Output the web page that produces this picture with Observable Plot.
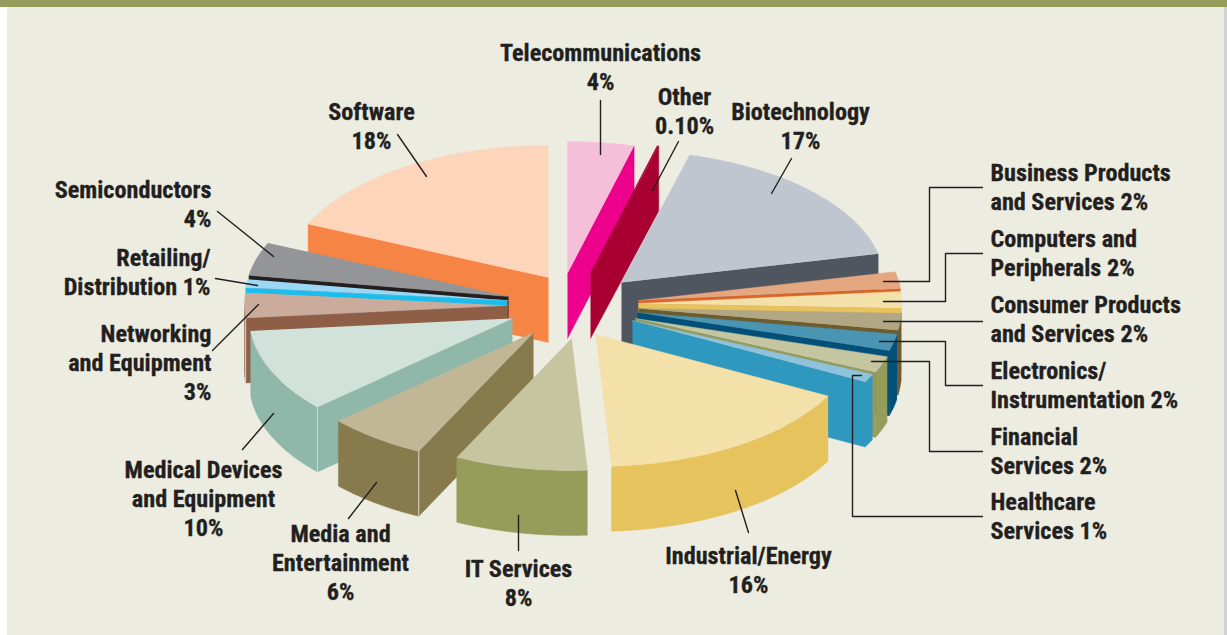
<!DOCTYPE html>
<html>
<head>
<meta charset="utf-8">
<script src="https://cdn.jsdelivr.net/npm/d3@7"></script>
<script src="https://cdn.jsdelivr.net/npm/@observablehq/plot@0.6"></script>
<style>html,body{margin:0;padding:0;background:#fff;overflow:hidden}</style>
</head>
<body>
<div id="chart"></div>
<script>
// ---- data, clockwise from 12 o'clock
const sectors = ["Telecommunications","Other","Biotechnology","Business Products and Services","Computers and Peripherals","Consumer Products and Services","Electronics/Instrumentation","Financial Services","Healthcare Services","Industrial/Energy","IT Services","Media and Entertainment","Medical Devices and Equipment","Networking and Equipment","Retailing/Distribution","Semiconductors","Software"];
const shares = [4,0.1,17,2,2,2,2,2,1,16,8,6,10,3,1,4,18];
const labelTexts = ["Telecommunications\n4%","Other\n0.10%","Biotechnology\n17%","Business Products\nand Services 2%","Computers and\nPeripherals 2%","Consumer Products\nand Services 2%","Electronics/\nInstrumentation 2%","Financial\nServices 2%","Healthcare\nServices 1%","Industrial/Energy\n16%","IT Services\n8%","Media and\nEntertainment\n6%","Medical Devices\nand Equipment\n10%","Networking\nand Equipment\n3%","Retailing/\nDistribution 1%","Semiconductors\n4%","Software\n18%"];

// ---- styles
const topColors = ["#f5bfda","#a90034","#bfc6cf","#e5a77f","#f4e0a9","#b1a784","#4995b3","#c5c5a0","#8fc2dd","#f4e0a9","#c5c5a0","#c1b796","#d0e2da","#cbab9b","#9cd8f5","#939598","#fdd5bb"];
const wallColors = ["#ec008c","#a90034","#4f5660","#d9652a","#e6c35c","#6c5c2f","#00507a","#969c5a","#2f98be","#e6c35c","#969c5a","#877b4e","#8fb8aa","#8e5e46","#19bdee","#231f20","#f68445"];

// ---- layout: where each exploded slice's tip sits, and pie proportions
const tipX = [567,590,621,638,638,638,637,635,632,595,571,533,512,507,507,508,548];
const tipY = [273,273,282,300,303,308,312,318,320,334,338,332,318,305,300,296,277];
const radiusX = 263, radiusY = 132, depth = 65;
const paintOrder = [16,0,1,2,3,4,5,6,7,8,15,14,13,12,11,10,9];
const labelX = [600,684,800,990,990,990,990,990,990,748,518,340,203,211,210,211,371];
const labelY = [66,110,125,186,252,318,384,450,515,569,582,561,497,361,271,203,125];
const labelAnchor = ["middle","middle","middle","start","start","start","start","start","start","middle","middle","middle","middle","end","end","end","middle"];
const leaders = [
  [[600,100],[600,154]],
  [[678,141],[652,190]],
  [[791,158],[771,193]],
  [[982,187],[929,187],[929,281],[883,281]],
  [[982,253],[945,253],[945,301],[883,301]],
  [[982,321],[883,321]],
  [[982,385],[945,385],[945,341],[879,341]],
  [[982,451],[929,451],[929,361],[871,361]],
  [[982,516],[852,516],[852,375],[861,375]],
  [[748,532],[735,490]],
  [[518,550],[518,515]],
  [[348,518],[376,482]],
  [[242,449],[273,413]],
  [[212,350],[258,304]],
  [[215,278],[257,285]],
  [[217,211],[273,256]],
  [[397,134],[426,176]]
];

// ---- slice faces derived from the shares
const total = d3.sum(shares);
const rad = d => d * Math.PI / 180;
const rimPoint = (i, deg, drop = 0) => ({
  x: tipX[i] + radiusX * Math.sin(rad(deg)),
  y: tipY[i] - radiusY * Math.cos(rad(deg)) + drop
});
const arcDegrees = (a, b) => {
  const out = [];
  const n = Math.max(2, Math.ceil(b - a));
  for (let k = 0; k <= n; k++) out.push(a + (b - a) * k / n);
  return out;
};
let running = 0;
const spans = shares.map(s => { const a = running; running += s / total * 360; return [a, running]; });

const faces = [];
const highlights = [];
const addFace = (key, color, pts) => pts.forEach(p => faces.push({key, color, x: p.x, y: p.y}));
paintOrder.forEach(i => {
  const [a, b] = spans[i];
  const lo = Math.max(a, 90), hi = Math.min(b, 270);
  if (lo < hi) {
    const arc = arcDegrees(lo, hi);
    addFace(`rim${i}`, wallColors[i], [...arc.map(d => rimPoint(i, d)), ...arc.reverse().map(d => rimPoint(i, d, depth))]);
  }
  const tip = {x: tipX[i], y: tipY[i]}, tipLow = {x: tipX[i], y: tipY[i] + depth};
  if (b > 1 && b < 170) addFace(`end${i}`, wallColors[i], [tip, rimPoint(i, b), rimPoint(i, b, depth), tipLow]);
  if (a > 180 && a < 359) addFace(`start${i}`, wallColors[i], [tip, rimPoint(i, a), rimPoint(i, a, depth), tipLow]);
  if (a > 180 && a < 270) [0, depth].forEach(d => highlights.push({key: `h${i}`, order: i, ...rimPoint(i, a, d)}));
  addFace(`top${i}`, topColors[i], [tip, ...arcDegrees(a, b).map(d => rimPoint(i, d))]);
});

const leaderRows = leaders.flatMap((pts, i) => pts.map(([x, y]) => ({sector: sectors[i], x, y})));
const labelRows = sectors.map((sector, i) => ({sector, text: labelTexts[i], x: labelX[i], y: labelY[i], anchor: labelAnchor[i]}));
const labelMark = anchor => Plot.text(labelRows.filter(d => d.anchor === anchor), {
  x: "x", y: "y", text: "text", textAnchor: anchor, lineAnchor: "middle", lineHeight: 1.2,
  fontSize: 24.2, fontWeight: 700, fill: "#231f20", stroke: "#231f20", strokeWidth: 0.3,
  fontFamily: "'Liberation Sans Narrow','Roboto Condensed','DejaVu Sans Condensed',sans-serif"
});

const chart = Plot.plot({
  width: 1227, height: 635,
  margin: 0,
  x: {domain: [0, 1227], range: [0, 1227], axis: null},
  y: {domain: [0, 635], range: [0, 635], axis: null},
  color: {type: "identity"},
  style: {
    display: "block",
    background: "linear-gradient(#959c5a 7px, transparent 7px), linear-gradient(to right, #fff 7px, #ecece0 7px, #ecece0 1224px, #d2d3d5 1224px)"
  },
  marks: [
    Plot.line(faces, {x: "x", y: "y", z: "key", fill: "color", stroke: "color", strokeWidth: 0.4}),
    Plot.line(highlights, {x: "x", y: "y", z: "key", stroke: "#d9d8c6", strokeWidth: 1}),
    Plot.line(leaderRows, {x: "x", y: "y", z: "sector", stroke: "#231f20", strokeWidth: 1.4}),
    labelMark("middle"), labelMark("start"), labelMark("end")
  ]
});
document.getElementById("chart").appendChild(chart);
</script>
</body>
</html>
